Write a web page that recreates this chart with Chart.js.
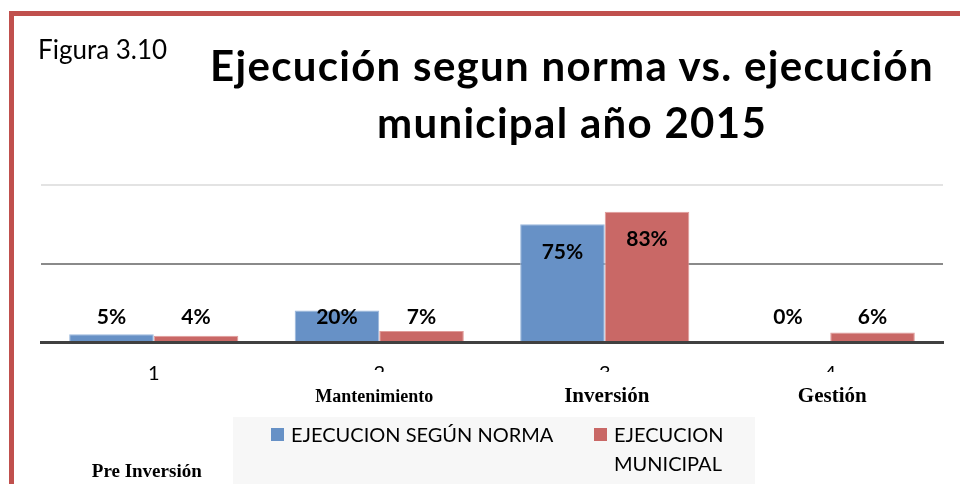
<!DOCTYPE html>
<html>
<head>
<meta charset="utf-8">
<script src="https://cdn.jsdelivr.net/npm/chart.js@4.4.0/dist/chart.umd.min.js"></script>
<style>
  html, body { margin: 0; padding: 0; background: #fff; }
  #wrap { position: relative; width: 960px; height: 484px; overflow: hidden; font-family: Lato, "Open Sans", sans-serif; }
  #frame { position: absolute; left: 9px; top: 11px; right: -10px; bottom: -10px; border-left: 5px solid #c0504d; border-top: 5px solid #c0504d; }
  #fig { position: absolute; left: 38px; top: 33px; font-size: 26px; color: #000; }
  #title { position: absolute; left: 180px; width: 784px; top: 37px; text-align: center; font-size: 42px; letter-spacing: 1.3px; font-weight: bold; line-height: 57px; color: #000; }
  #chart { position: absolute; left: 0; top: 0; }
  #legend { position: absolute; left: 233px; top: 417px; width: 522px; height: 70px; background: #f7f7f7; }
  .item { position: absolute; top: 3px; font-size: 20px; line-height: 29px; color: #000; }
  .item i { position: absolute; left: -20px; top: 8px; width: 13px; height: 13px; }
</style>
</head>
<body>
<div id="wrap">
  <canvas id="chart" width="960" height="484"></canvas>
  <div id="frame"></div>
  <div id="fig">Figura 3.10</div>
  <div id="title">Ejecución segun norma vs. ejecución<br>municipal año 2015</div>
  <div id="legend"></div>
</div>
<script>
// ====================================
// DATA
// ====================================
const categories = ['1', '2', '3', '4'];
const stageNames = ['Pre Inversión', 'Mantenimiento', 'Inversión', 'Gestión'];
const seriesNames = ['EJECUCION SEGÚN NORMA', 'EJECUCION MUNICIPAL'];
const normaValues = [5, 20, 75, 0];
const municipalValues = [4, 7, 83, 6];
const yTicks = [0, 50, 100];

const BLUE = '#6791c6';
const RED = '#c96866';

/**
 * Value labels on bars
 */
const valueLabels = {
  id: 'valueLabels',
  afterDatasetsDraw(chart) {
    const ctx = chart.ctx;
    const yScale = chart.scales.y;
    const floorY = yScale.getPixelForValue(16);
    ctx.save();
    ctx.font = 'bold 21px Lato';
    ctx.fillStyle = '#000';
    ctx.textAlign = 'center';
    ctx.textBaseline = 'middle';
    chart.data.datasets.forEach((ds, i) => {
      chart.getDatasetMeta(i).data.forEach((bar, j) => {
        const y = Math.min(bar.y + 28, floorY);
        ctx.fillText(ds.data[j] + '%', bar.x, y);
      });
    });
    ctx.restore();
  }
};

/**
 * Stage names under the axis (text boxes with white fill)
 */
const stageLabels = {
  id: 'stageLabels',
  afterDraw(chart) {
    const ctx = chart.ctx;
    const xScale = chart.scales.x;
    ctx.save();
    ctx.textAlign = 'center';
    ctx.textBaseline = 'middle';
    stageNames.forEach((name, i) => {
      const cx = xScale.getPixelForValue(i);
      if (i === 0) {
        ctx.font = 'bold 19px "Liberation Serif"';
        ctx.fillStyle = '#000';
        ctx.fillText(name, cx - 7, 472);
        return;
      }
      ctx.font = i === 1 ? 'bold 18px "Liberation Serif"' : 'bold 21px "Liberation Serif"';
      const w = ctx.measureText(name).width;
      ctx.fillStyle = '#fff';
      ctx.fillRect(cx - w / 2 - 12, 372, w + 24, 40);
      ctx.fillStyle = '#000';
      ctx.fillText(name, cx + (i === 1 ? -5 : 2), 397);
    });
    ctx.restore();
  }
};

const chart = new Chart(document.getElementById('chart').getContext('2d'), {
  type: 'bar',
  data: {
    labels: categories,
    datasets: [
      { label: seriesNames[0], data: normaValues, backgroundColor: BLUE, borderColor: '#9bb8dd', borderWidth: 1 },
      { label: seriesNames[1], data: municipalValues, backgroundColor: RED, borderColor: '#e09c9a', borderWidth: 1 }
    ]
  },
  options: {
    responsive: false,
    animation: false,
    layout: { padding: { left: 41, right: 17, top: 185, bottom: 86 } },
    plugins: { legend: { display: false }, tooltip: { enabled: false } },
    datasets: { bar: { categoryPercentage: 0.75, barPercentage: 1.0 } },
    scales: {
      x: {
        grid: { display: false },
        border: { display: true, color: '#404040', width: 3 },
        ticks: { color: '#000', padding: 12, font: { family: 'Lato', size: 20 } }
      },
      y: {
        min: 0,
        max: 100,
        afterBuildTicks: (axis) => { axis.ticks = yTicks.map(v => ({ value: v })); },
        ticks: { display: false },
        border: { display: false },
        grid: {
          drawTicks: false,
          color: (c) => c.tick.value === 100 ? '#e3e3e3' : (c.tick.value === 50 ? '#8a8a8a' : 'rgba(0,0,0,0)'),
          lineWidth: 2
        }
      }
    }
  },
  plugins: [valueLabels, stageLabels]
});

// HTML legend from datasets
const legendEl = document.getElementById('legend');
const legendPos = [[58, 300], [381, 130]];
chart.data.datasets.forEach((ds, i) => {
  const item = document.createElement('div');
  item.className = 'item';
  item.style.left = legendPos[i][0] + 'px';
  item.style.width = legendPos[i][1] + 'px';
  item.innerHTML = '<i style="background:' + ds.backgroundColor + '"></i>' + ds.label;
  legendEl.appendChild(item);
});
</script>
</body>
</html>
